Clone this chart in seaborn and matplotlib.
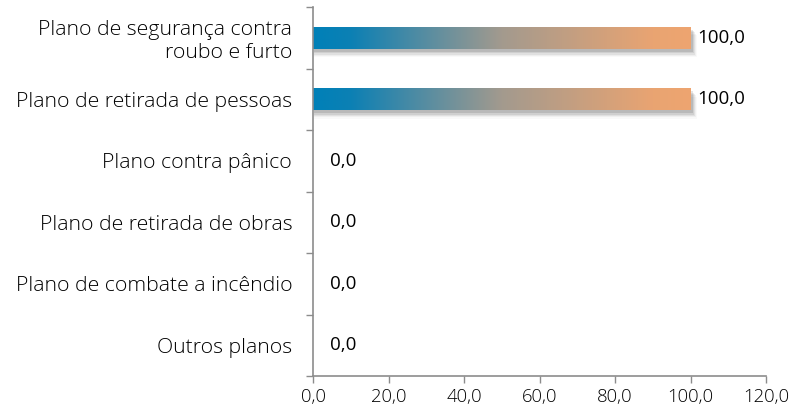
import matplotlib.pyplot as plt
import matplotlib.colors as mcolors
from matplotlib.patches import Rectangle
import numpy as np
import pandas as pd
import seaborn as sns

categories = [
    "Plano de segurança contra\nroubo e furto",
    "Plano de retirada de pessoas",
    "Plano contra pânico",
    "Plano de retirada de obras",
    "Plano de combate a incêndio",
    "Outros planos",
]
values = [100.0, 100.0, 0.0, 0.0, 0.0, 0.0]
x_ticks = [0, 20, 40, 60, 80, 100, 120]

sns.set_style("white")
plt.rcParams['font.family'] = ['Open Sans', 'DejaVu Sans']

df = pd.DataFrame({"plano": categories, "valor": values})

fig = plt.figure(figsize=(7.96, 4.16), dpi=100)
ax = fig.add_axes([313 / 796, 40 / 416, 453 / 796, 369 / 416])

sns.barplot(data=df, x="valor", y="plano", orient="h", width=0.36,
            color="white", ax=ax)

grad = mcolors.LinearSegmentedColormap.from_list(
    "grad", [(0.0, "#0080b8"), (0.1, "#0c80b4"), (0.5, "#a39a8e"),
             (0.9, "#e9a472"), (1.0, "#eea570")])
ramp = np.linspace(0, 1, 256).reshape(1, -1)

for patch in ax.patches:
    x0, y0 = patch.get_x(), patch.get_y()
    w, h = patch.get_width(), patch.get_height()
    patch.set_visible(False)
    if w <= 0:
        continue
    # soft shadow under the bar
    for i, a in enumerate([0.10, 0.08, 0.06, 0.04, 0.025]):
        ax.add_patch(Rectangle((x0 + 0.3, y0 + 0.05 + i * 0.022), w + 0.3 + i * 0.25, h,
                               facecolor="black", alpha=a, edgecolor="none", zorder=1))
    clip = Rectangle((x0, y0), w, h, transform=ax.transData)
    im = ax.imshow(ramp, cmap=grad, aspect="auto", extent=(x0, x0 + w, y0 + h, y0),
                   zorder=2, interpolation="bicubic")
    im.set_clip_path(clip)

for i, v in enumerate(values):
    off = 5 if v > 0 else 12
    ax.annotate(f"{v:.1f}".replace(".", ","), xy=(v, i), xytext=(off, 0),
                textcoords="offset points", ha="left", va="center",
                fontsize=13.5, color="#000000")

ax.set_xlim(0, 120)
ax.set_ylim(5.5, -0.5)
ax.set_xticks(x_ticks)
ax.set_xticklabels([f"{t:.1f}".replace(".", ",") for t in x_ticks], fontsize=13.3, color="#000000",
                   fontweight="light")
ax.set_yticks(range(len(categories)))
ax.set_yticklabels(categories, fontsize=15.3, color="#000000", linespacing=1.15,
                   fontweight="light")
ax.set_yticks(np.arange(-0.5, len(categories), 1), minor=True)
ax.tick_params(axis="y", which="major", left=False, length=0, pad=15)
ax.tick_params(axis="y", which="minor", left=True, length=5, color="#8c8c8c", width=1, direction="out")
ax.tick_params(axis="x", bottom=True, length=5, color="#8c8c8c", width=1, direction="out", pad=4)
ax.set_xlabel("")
ax.set_ylabel("")

for side in ["top", "right"]:
    ax.spines[side].set_visible(False)
for side in ["left", "bottom"]:
    ax.spines[side].set_color("#8c8c8c")
    ax.spines[side].set_linewidth(1.2)

fig.savefig("out.png", dpi=100)
